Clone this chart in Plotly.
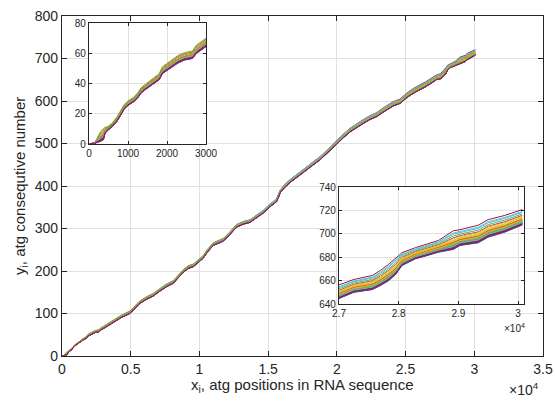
import numpy as np
import plotly.graph_objects as go

# ---- data ----
# positions (x) of the lower edge of the bundle of curves, and its y value
X_POS = [0, 150, 300, 370, 410, 480, 600, 720, 800, 900, 1000, 1150, 1250, 1330, 1420,
         1550, 1680, 1800, 1880, 1960, 2100, 2280, 2450, 2650, 2760, 2900, 3000,
         3700, 4300, 4950, 5300, 5680, 6200, 6650, 7100, 7620, 8100, 8500, 8830, 9200,
         9560, 10280, 10600, 11010, 11740, 12200, 12710, 13200, 13680, 14200, 14650,
         15100, 15620, 15900, 16200, 16600, 17000, 17320, 17800, 18290, 18800, 19265,
         19650, 20000, 20500, 20960, 21450, 21930, 22400, 22900, 23300, 23630, 24100,
         24600, 25100, 25570, 26055, 26500,
         27000, 27250, 27556, 27694, 27833, 27944, 28056, 28278, 28444, 28667, 28917,
         29028, 29333, 29500, 29778, 30070]
Y_LOW = [0, 0.5, 1.8, 2.8, 7.0, 9.0, 11.5, 15.0, 18.5, 23.0, 25.5, 28.0, 30.5, 33.5, 35.5,
         38.0, 40.0, 42.5, 46.5, 48.0, 50.5, 53.5, 55.5, 56.5, 60.0, 62.5, 64.0,
         78, 90, 100, 112, 124, 134, 141, 152, 163, 171, 185, 197, 206,
         210, 230, 245, 260, 270, 285, 303, 310, 314, 326, 336,
         350, 363, 385, 396, 408, 418, 426, 437, 449, 462, 476,
         488, 500, 514, 527, 538, 547, 556, 563, 572, 579, 588,
         594, 608, 618, 626, 634,
         644.3, 650.0, 652.3, 655.7, 660.0, 664.9, 672.9, 678.6, 680.9, 684.3, 686.6,
         690.0, 692.3, 697.1, 701.4, 707.5]
# width of the bundle (top curve minus lower edge) at the same positions
SPREAD = [0, 0.5, 6.5, 7.5, 4, 2.5, 2.5, 3, 3, 3, 3, 3, 3.5, 3.5, 3.5,
          3.5, 4, 4, 4.5, 4.5, 4.5, 5, 5, 5, 5.5, 5.5, 5.5,
          6, 6, 6.5, 6.5, 6.5, 7, 7, 7, 7.5, 7.5, 7.5, 7.5, 8,
          8, 8, 8, 8.5, 8.5, 8.5, 9, 9, 9, 9, 9.5,
          9.5, 9.5, 9.5, 10, 10, 10, 10, 10, 10.5, 10.5, 10.5,
          10.5, 10.5, 11, 11, 11, 11, 11, 11, 11.5, 11.5, 11.5,
          11.5, 11.5, 12, 12, 12,
          12, 11, 12, 13, 14, 14, 11, 9.5, 10, 10, 16,
          13.5, 15, 15, 14.3, 13.2]
# relative place of each sequence inside the bundle near the start and near the end
FRAC_START = [0.20, 0.85, 0.60, 0.10, 1.00, 0.30, 0.25, 0.20, 0.50, 0.40, 0.05, 0.70,
              0.35, 0.20, 0.15, 0.30, 0.45, 0.00, 0.35, 0.30, 0.20, 0.25, 0.40, 0.30,
              0.05, 0.25, 0.30, 0.20, 0.25, 0.35, 0.30, 0.02, 0.30, 0.35, 0.15]
FRAC_END = [0.12, 0.30, 0.50, 0.62, 0.40, 0.82, 1.00, 0.06, 0.22, 0.58, 0.10, 0.72,
            0.88, 0.26, 0.02, 0.16, 0.44, 0.04, 0.34, 0.14, 0.20, 0.08, 0.36, 0.24,
            0.00, 0.18, 0.28, 0.12, 0.04, 0.10, 0.32, 0.06, 0.22, 0.16, 0.08]

MAIN_XTICKS = [0, 5000, 10000, 15000, 20000, 25000, 30000, 35000]
MAIN_XTEXT = ["0", "0.5", "1", "1.5", "2", "2.5", "3", "3.5"]
MAIN_YTICKS = [0, 100, 200, 300, 400, 500, 600, 700, 800]
IN1_XTICKS = [0, 1000, 2000, 3000]
IN1_YTICKS = [0, 20, 40, 60, 80]
IN2_XTICKS = [27000, 28000, 29000, 30000]
IN2_XTEXT = ["2.7", "2.8", "2.9", "3"]
IN2_YTICKS = [640, 660, 680, 700, 720, 740]

COLORS = ["#0072BD", "#D95319", "#EDB120", "#7E2F8E", "#77AC30", "#4DBEEE", "#A2142F"]

W, H = 555, 401
def px(x): return x / W
def py(y): return 1 - y / H

xs = np.array(X_POS, dtype=float)
low = np.array(Y_LOW, dtype=float)
spr = np.array(SPREAD, dtype=float)
t = np.clip((xs - 3000) / (27000 - 3000), 0, 1)

fig = go.Figure()
for k in range(len(FRAC_END)):
    f = FRAC_START[k] + (FRAC_END[k] - FRAC_START[k]) * t
    ys = low + f * spr
    c = COLORS[k % 7]
    for xa, ya in (("x", "y"), ("x2", "y2"), ("x3", "y3")):
        fig.add_trace(go.Scatter(x=xs, y=ys, mode="lines", xaxis=xa, yaxis=ya,
                                 line=dict(color=c, width=1), showlegend=False,
                                 hoverinfo="skip"))

AX = "#262626"
GRID = "#e1e1e1"
FONT = "Liberation Sans, Arial, sans-serif"

def axis(dom, rng, tv, tt=None, size=14, ticklen=5, anchor=None):
    d = dict(domain=dom, range=rng, tickvals=tv, showline=True, linecolor=AX,
             linewidth=1.2, mirror="ticks", ticks="inside", ticklen=ticklen,
             tickcolor=AX, tickwidth=1, showgrid=True, gridcolor=GRID, gridwidth=1,
             zeroline=False, tickfont=dict(family=FONT, size=size, color=AX),
             fixedrange=True, anchor=anchor, automargin=False)
    if tt is not None:
        d["ticktext"] = tt
    return d

fig.update_layout(
    width=W, height=H, margin=dict(l=0, r=0, t=0, b=0, autoexpand=False),
    paper_bgcolor="white", plot_bgcolor="white", showlegend=False,
    font=dict(family=FONT, color=AX),
    xaxis=axis([px(62), px(543)], [0, 35000], MAIN_XTICKS, MAIN_XTEXT, 14, 5, "y"),
    yaxis=axis([py(356), py(16)], [0, 800], MAIN_YTICKS, None, 14, 5, "x"),
    xaxis2=axis([px(89), px(206)], [0, 3000], IN1_XTICKS, None, 10, 3, "y2"),
    yaxis2=axis([py(144), py(23)], [0, 80], IN1_YTICKS, None, 10, 3, "x2"),
    xaxis3=axis([px(339), px(524)], [27000, 30100], IN2_XTICKS, IN2_XTEXT, 10, 3, "y3"),
    yaxis3=axis([py(304), py(187)], [640, 740], IN2_YTICKS, None, 10, 3, "x3"),
)

def note(text, x, y, size, angle=0):
    fig.add_annotation(text=text, x=px(x), y=py(y), xref="paper", yref="paper",
                       xanchor="center", yanchor="middle", showarrow=False,
                       textangle=angle, font=dict(family=FONT, size=size, color=AX))

note("x<sub>i</sub>, atg positions in RNA sequence", 302, 385, 15)
note("y<sub>i</sub>, atg consequtive number", 20, 186, 15, -90)
note("\u00d710<sup>4</sup>", 524, 389, 14)
note("\u00d710<sup>4</sup>", 514, 328, 10)

fig.write_html("out.html")
